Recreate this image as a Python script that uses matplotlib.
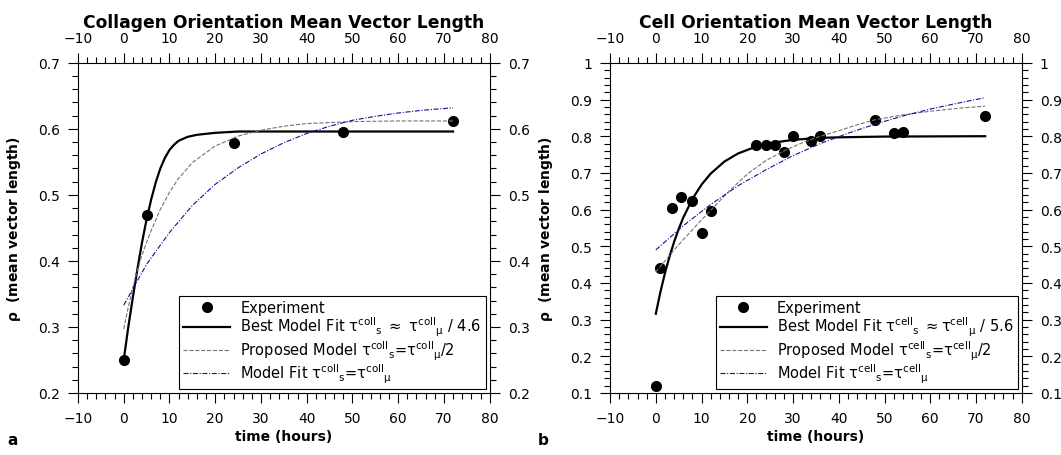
import numpy as np
import matplotlib
matplotlib.use("Agg")
import matplotlib.pyplot as plt
from matplotlib.ticker import MultipleLocator, FuncFormatter

plt.rcParams['font.family'] = ['DejaVu Sans']
plt.rcParams['mathtext.default'] = 'regular'

# ---- Panel a: collagen ----
col_t_exp = [0, 5, 24, 48, 72]
col_rho_exp = [0.25, 0.47, 0.578, 0.595, 0.612]

col_t_best = [0, 1, 2, 3, 4, 5, 6, 7, 8, 9, 10, 11, 12, 14, 16, 20, 25, 40, 60, 72]
col_rho_best = [0.25, 0.30, 0.345, 0.388, 0.428, 0.463, 0.493, 0.519, 0.540, 0.556,
                0.568, 0.576, 0.582, 0.588, 0.591, 0.594, 0.596, 0.596, 0.596, 0.596]

col_t_prop = [0, 1, 2, 3, 4, 5, 6, 8, 10, 12, 15, 20, 25, 30, 35, 40, 50, 60, 72]
col_rho_prop = [0.297, 0.33, 0.36, 0.386, 0.409, 0.428, 0.446, 0.478, 0.504,
                0.525, 0.549, 0.574, 0.589, 0.598, 0.604, 0.608, 0.611, 0.612, 0.612]

col_t_eq = [0, 5, 10, 15, 20, 25, 30, 35, 40, 45, 50, 55, 60, 65, 72]
col_rho_eq = [0.333, 0.395, 0.443, 0.484, 0.516, 0.541, 0.562, 0.579, 0.593,
              0.604, 0.613, 0.619, 0.624, 0.628, 0.632]

# ---- Panel b: cells ----
cell_t_exp = [0, 1, 3.5, 5.5, 8, 10, 12, 22, 24, 26, 28, 30, 34, 36, 48, 52, 54, 72]
cell_rho_exp = [0.12, 0.44, 0.604, 0.634, 0.623, 0.536, 0.596, 0.776, 0.776, 0.776,
                0.757, 0.80, 0.786, 0.80, 0.845, 0.809, 0.811, 0.855]

cell_t_best = [0, 1, 2, 3, 4, 5, 6, 8, 10, 12, 15, 18, 22, 26, 30, 35, 40, 50, 72]
cell_rho_best = [0.316, 0.375, 0.427, 0.472, 0.512, 0.547, 0.578, 0.629, 0.668, 0.698,
                 0.731, 0.753, 0.772, 0.783, 0.790, 0.795, 0.797, 0.799, 0.80]

cell_t_prop = [0, 2, 4, 6, 8, 10, 12, 16, 20, 24, 28, 32, 36, 40, 44, 48, 54, 60, 66, 72]
cell_rho_prop = [0.43, 0.46, 0.49, 0.518, 0.545, 0.572, 0.598, 0.650, 0.697, 0.733,
                 0.760, 0.782, 0.800, 0.815, 0.831, 0.845, 0.858, 0.868, 0.876, 0.882]

cell_t_eq = [0, 6, 12, 18, 24, 30, 36, 42, 48, 54, 60, 66, 72]
cell_rho_eq = [0.49, 0.556, 0.614, 0.665, 0.708, 0.747, 0.780, 0.808, 0.833, 0.855,
               0.874, 0.890, 0.905]

fig = plt.figure(figsize=(10.61, 4.56), dpi=100)
ax1 = fig.add_axes([0.0735, 0.136, 0.388, 0.724])
ax2 = fig.add_axes([0.575, 0.136, 0.388, 0.724])


def draw(ax, te, re, tb, rb, tp, rp, tq, rq, tag, best_rel, title, ylim):
    ax.plot(te, re, 'o', color='black', markersize=7, label='Experiment')
    ax.plot(tb, rb, '-', color='black', lw=1.6, label='Best Model Fit ' + best_rel)
    ax.plot(tp, rp, '--', color='0.45', lw=0.8,
            label=r'Proposed Model $\tau^{%s}{}_{s}$=$\tau^{%s}{}_{\mu}$/2' % (tag, tag))
    ax.plot(tq, rq, color='#10109a', lw=0.8, linestyle=(0, (4.5, 1.5, 1, 1.5)),
            label=r'Model Fit $\tau^{%s}{}_{s}$=$\tau^{%s}{}_{\mu}$' % (tag, tag))
    ax.set_xlim(-10, 80)
    ax.set_ylim(*ylim)
    ax.xaxis.set_major_locator(MultipleLocator(10))
    ax.xaxis.set_minor_locator(MultipleLocator(2))
    ax.yaxis.set_major_locator(MultipleLocator(0.1))
    ax.yaxis.set_minor_locator(MultipleLocator(0.02))
    ax.tick_params(which='both', direction='out', top=True, right=True,
                   labeltop=True, labelright=True, labelsize=10, width=0.8)
    ax.tick_params(which='major', length=7, pad=6)
    ax.tick_params(which='minor', length=4)
    ax.set_xlabel('time (hours)', fontweight='bold', fontsize=10, labelpad=3)
    ax.set_ylabel(r'$\rho$  (mean vector length)', fontweight='bold', fontsize=10,
                  labelpad=11)
    ax.set_title(title, fontweight='bold', fontsize=12.3, pad=3)
    leg = ax.legend(loc='lower right', fontsize=10.5, frameon=True, fancybox=False,
                    edgecolor='black', framealpha=1, handlelength=3.2,
                    labelspacing=0.0, borderaxespad=0.25, borderpad=0.3,
                    handletextpad=0.7)
    leg.get_frame().set_linewidth(0.8)


draw(ax1, col_t_exp, col_rho_exp, col_t_best, col_rho_best, col_t_prop, col_rho_prop,
     col_t_eq, col_rho_eq, 'coll',
     r'$\tau^{coll}{}_{s}$ $\approx$ $\tau^{coll}{}_{\mu}$ / 4.6',
     'Collagen Orientation Mean Vector Length', (0.2, 0.7))
draw(ax2, cell_t_exp, cell_rho_exp, cell_t_best, cell_rho_best, cell_t_prop, cell_rho_prop,
     cell_t_eq, cell_rho_eq, 'cell',
     r'$\tau^{cell}{}_{s}$ $\approx$$\tau^{cell}{}_{\mu}$ / 5.6',
     'Cell Orientation Mean Vector Length', (0.1, 1.0))

ax2.yaxis.set_major_formatter(FuncFormatter(
    lambda v, p: '1' if abs(v - 1) < 1e-9 else '%.1f' % v))

fig.text(0.007, 0.025, 'a', fontweight='bold', fontsize=11)
fig.text(0.507, 0.025, 'b', fontweight='bold', fontsize=11)

fig.savefig('out.png', dpi=100)
